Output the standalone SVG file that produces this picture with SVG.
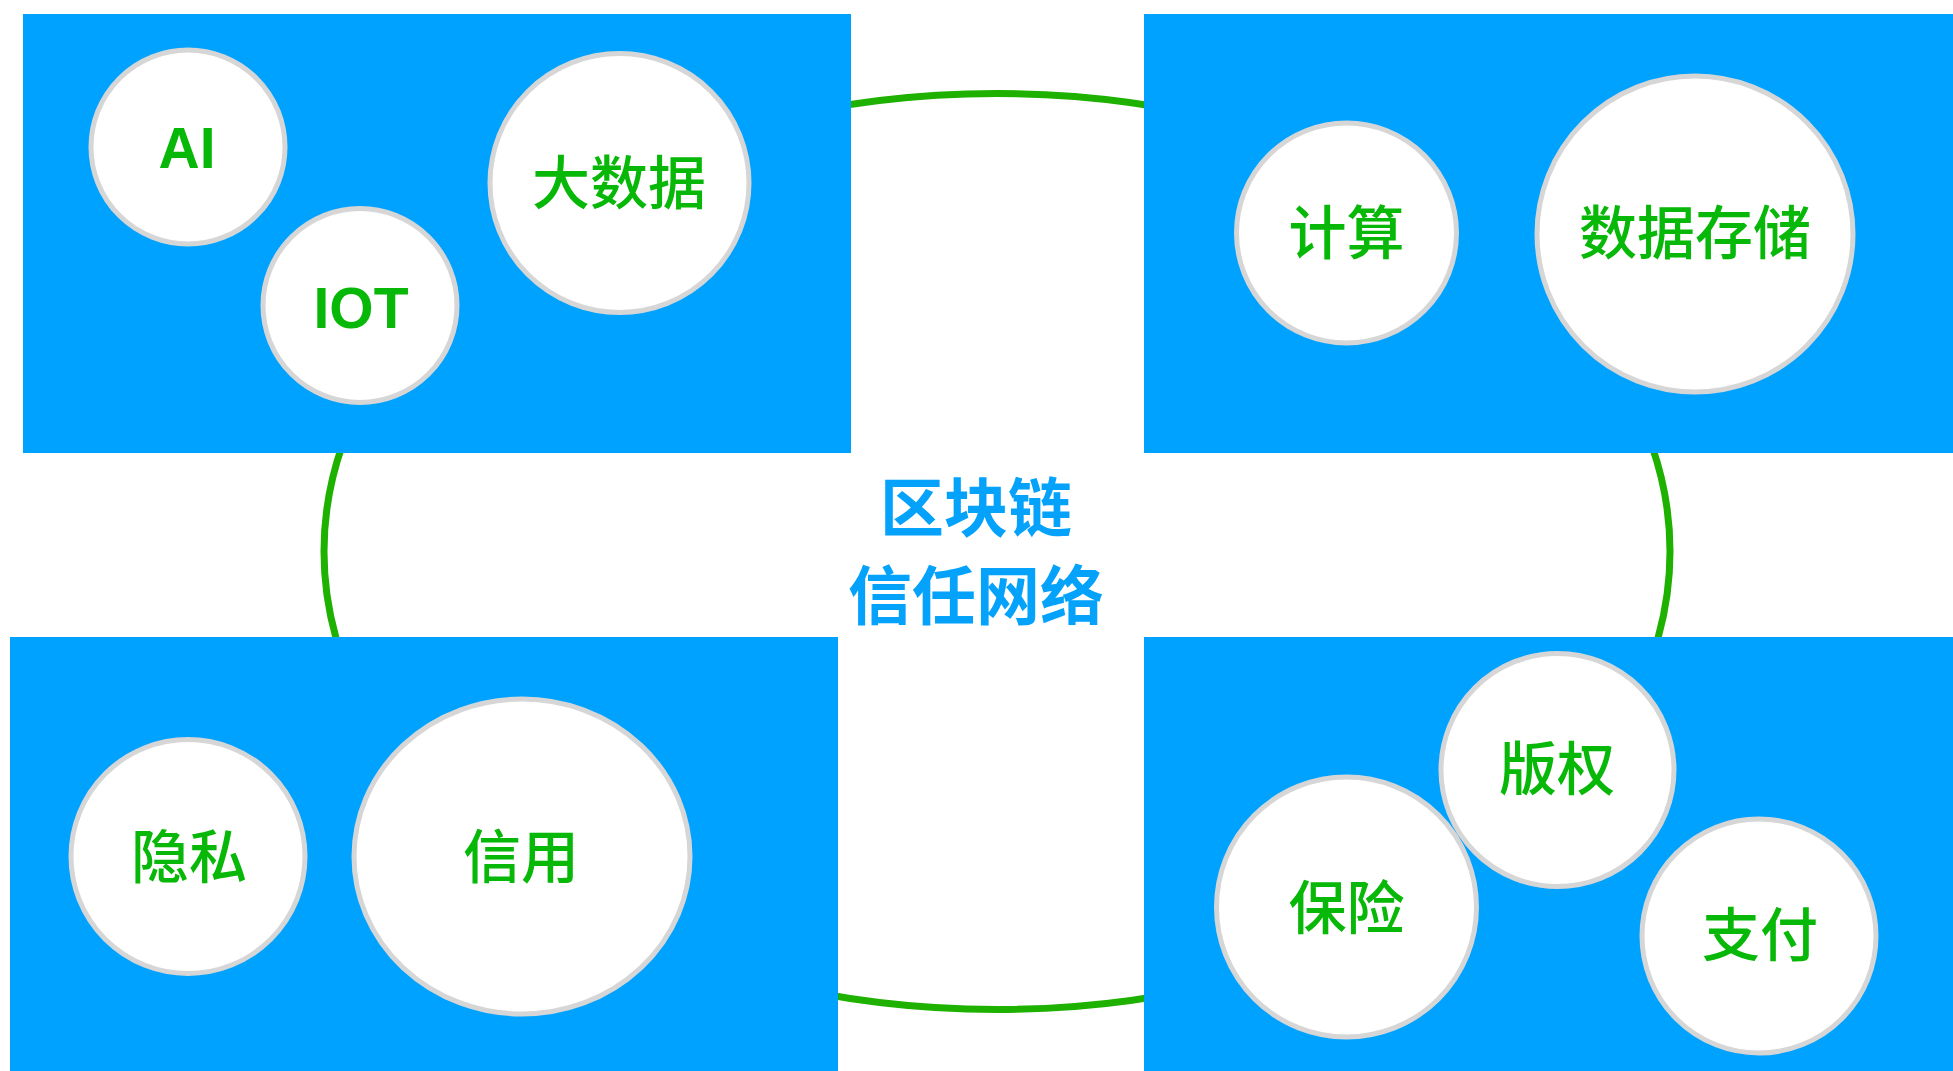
<svg xmlns="http://www.w3.org/2000/svg" width="1953" height="1071" viewBox="0 0 1953 1071">
<style>
.panel{fill:#00a2ff}
.bub{fill:#ffffff;stroke:#d6d6d6;stroke-width:5}
.lbl{font-family:"Noto Sans CJK SC","Noto Sans",sans-serif;font-size:58px;font-weight:500;fill:#08b808;text-anchor:middle}
.lat{font-family:"Liberation Sans",Arial,sans-serif;font-size:57px;font-weight:bold;fill:#08b808;text-anchor:middle}
.ctr{font-family:"Noto Sans CJK SC","Noto Sans",sans-serif;font-size:64px;font-weight:700;fill:#04a2fb;text-anchor:middle}
</style>
<rect width="1953" height="1071" fill="#ffffff"/>
<g id="connectors">
<ellipse cx="997" cy="551.5" rx="673" ry="458" fill="none" stroke="#1eb100" stroke-width="7"/>
</g>
<g id="panel-tl"><rect class="panel" x="23" y="14" width="828" height="439"/></g>
<g id="panel-tr"><rect class="panel" x="1144" y="14" width="809" height="439"/></g>
<g id="panel-bl"><rect class="panel" x="10" y="637" width="828" height="434"/></g>
<g id="panel-br"><rect class="panel" x="1144" y="637" width="809" height="434"/></g>
<g id="center-label">
<text class="ctr" x="976" y="531">区块链</text>
<text class="ctr" x="976" y="619">信任网络</text>
</g>
<g id="node-ai"><circle class="bub" cx="188" cy="147" r="97"/><text class="lat" x="187" y="168">AI</text></g>
<g id="node-iot"><circle class="bub" cx="360" cy="305.5" r="97"/><text class="lat" x="361" y="328">IOT</text></g>
<g id="node-bigdata"><circle class="bub" cx="619.5" cy="183" r="129.5"/><text class="lbl" x="619" y="204">大数据</text></g>
<g id="node-compute"><circle class="bub" cx="1346.5" cy="233" r="110"/><text class="lbl" x="1346.5" y="254">计算</text></g>
<g id="node-storage"><circle class="bub" cx="1695" cy="234" r="158"/><text class="lbl" x="1695" y="254">数据存储</text></g>
<g id="node-privacy"><circle class="bub" cx="188" cy="856.5" r="117"/><text class="lbl" x="189" y="878">隐私</text></g>
<g id="node-credit"><ellipse class="bub" cx="522" cy="856.5" rx="168" ry="157.5"/><text class="lbl" x="521" y="878">信用</text></g>
<g id="node-copyright"><circle class="bub" cx="1557.5" cy="770" r="116.5"/><text class="lbl" x="1557" y="790">版权</text></g>
<g id="node-insurance"><circle class="bub" cx="1346.5" cy="907" r="130"/><text class="lbl" x="1346.5" y="929">保险</text></g>
<g id="node-payment"><circle class="bub" cx="1759" cy="936" r="117"/><text class="lbl" x="1760" y="956">支付</text></g>
</svg>
